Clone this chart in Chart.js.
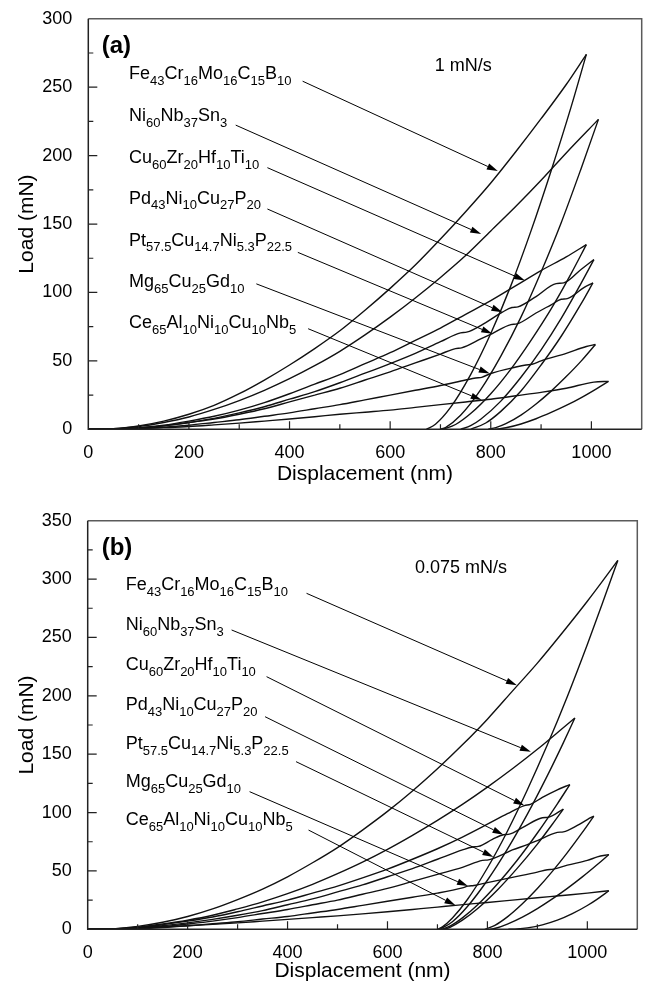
<!DOCTYPE html>
<html>
<head>
<meta charset="utf-8">
<script src="https://cdn.jsdelivr.net/npm/chart.js@4.4.0/dist/chart.umd.min.js"></script>
<style>
    body { margin: 0; background: #fff; }
    #wrapA { position: absolute; left: 0; top: 0; width: 649px; height: 490px; }
    #wrapB { position: absolute; left: 0; top: 490px; width: 649px; height: 496px; }
</style>
</head>
<body>
<div id="wrapA"><canvas id="chartA" width="649" height="490"></canvas></div>
<div id="wrapB"><canvas id="chartB" width="649" height="496"></canvas></div>
<script>
// ---- data: [displacement nm, load mN] ----

// (a) 1 mN/s
const FE_A_LOAD = [[0,0],[50,0.4],[100,2.5],[150,6],[200,11],[250,17.5],[300,26],[350,36],[400,47],[450,59],[500,72],[550,87],[600,103],[650,120],[700,139],[750,159],[800,180],[850,203],[900,227],[950,252],[990,274]];
const FE_A_UNLOAD = [[672,0],[690,3.7],[720,16],[760,40],[800,70],[840,105],[880,145],[920,189],[960,236],[990,274]];
const NI_A_LOAD = [[0,0],[50,0.4],[100,2],[150,5],[200,9],[250,14.5],[300,21],[350,28.5],[400,37],[450,46.5],[500,57],[550,69],[600,82],[650,96],[700,111],[750,127],[800,145],[850,163],[900,182],[950,202],[1014,226.5]];
const NI_A_UNLOAD = [[700,0],[710,1.3],[740,10.3],[780,29],[820,53.5],[860,82],[900,115],[940,151],[980,191],[1014,226.5]];
const CU_A_LOAD = [[0,0],[50,0.2],[100,1],[150,3],[200,6],[250,9.5],[300,14],[350,19.5],[400,26],[450,33],[500,40],[550,48],[600,56],[650,65],[700,74],[750,84],[800,94],[850,105],[900,116],[950,126],[990,135]];
const CU_A_UNLOAD = [[705,0],[730,3.5],[760,11.5],[800,26],[840,44],[880,65],[920,88],[960,114],[990,135]];
const PD_A_LOAD = [[0,0],[50,0.2],[100,1],[150,2.5],[200,5],[250,8],[300,12],[350,16.5],[400,22],[450,27.5],[500,34],[550,41],[600,48],[650,55.5],[700,64],[740,70.5],[752,71],[790,78],[823,85.6],[842,89],[854,89.5],[890,97],[930,106.5],[945,107],[980,117],[1005,124]];
const PD_A_UNLOAD = [[740,0],[760,2.6],[780,7.3],[820,20.6],[860,38],[900,58],[940,81],[980,107],[1005,124]];
const PT_A_LOAD = [[0,0],[50,0.2],[100,1],[150,2.5],[200,5],[250,7.5],[300,11],[350,15],[400,20],[450,25],[500,30],[550,36],[600,42],[650,48.5],[700,55],[730,59],[742,59.5],[780,66],[803,70],[840,76.5],[852,77],[890,85],[920,91],[940,95],[952,95.5],[985,103.5],[1003,107]];
const PT_A_UNLOAD = [[760,0],[790,4.6],[820,13.1],[860,28],[900,47],[940,68],[980,92],[1003,107]];
const MG_A_LOAD = [[0,0],[50,0.1],[100,0.5],[150,1.5],[200,3],[250,5],[300,7],[350,9.5],[400,12],[450,15],[500,18],[550,21.5],[600,25],[650,28.5],[700,32],[750,36],[770,37.5],[782,38],[800,40.8],[850,45.5],[870,47],[882,47.5],[900,50],[950,55.5],[990,60.5],[1008,62]];
const MG_A_UNLOAD = [[795,0],[810,1.2],[830,4.1],[860,10.4],[890,18.5],[920,27.9],[950,38.5],[980,50],[1008,62]];
const CE_A_LOAD = [[0,0],[50,0.1],[100,0.5],[150,1.2],[200,2],[250,3.2],[300,4.5],[350,6],[400,7.5],[450,9.2],[500,11],[550,12.5],[600,14],[650,16],[700,18],[750,20],[800,22],[850,24.5],[900,27],[950,30],[1005,34.5],[1034,35]];
const CE_A_UNLOAD = [[808,0],[830,1.1],[860,3.9],[890,7.7],[920,12.3],[950,17.4],[980,23.2],[1010,29.6],[1034,35]];

// (b) 0.075 mN/s
const FE_B_LOAD = [[0,0],[50,0.4],[100,2.5],[150,6],[200,11],[250,17.5],[300,25.5],[350,34.5],[400,45],[450,57],[500,70],[550,85],[600,101],[650,118.5],[700,137.5],[750,158],[800,180],[850,204],[900,228],[950,254],[1000,281],[1030,298],[1061,316]];
const FE_B_UNLOAD = [[700,0],[710,2.1],[730,9.7],[760,25.5],[800,52.5],[840,84],[880,119.5],[920,158],[960,199.5],[1000,244],[1030,279],[1061,316]];
const NI_B_LOAD = [[0,0],[50,0.3],[100,1.8],[150,4.5],[200,7.8],[250,12],[300,17.5],[350,23.5],[400,30.5],[450,38.5],[500,47.6],[550,57.5],[600,68.5],[650,80.5],[700,93.3],[750,107],[800,121.8],[850,137.5],[900,154.2],[950,172],[975,181]];
const NI_B_UNLOAD = [[705,0],[730,6.5],[760,19.5],[800,42],[840,68.6],[880,98.6],[920,131.6],[950,158],[975,181]];
const CU_B_LOAD = [[0,0],[50,0.2],[100,1.5],[150,4],[200,7],[250,10.5],[300,15],[350,20],[400,25],[450,31],[500,37],[550,44],[600,51.5],[650,60],[700,69],[750,79],[800,90],[840,99],[874,106],[886,107],[910,113],[940,119.5],[965,124]];
const CU_B_UNLOAD = [[708,0],[725,2.7],[750,9.8],[780,20.8],[820,38.8],[860,59.4],[900,82.5],[940,107.5],[965,124]];
const PD_B_LOAD = [[0,0],[50,0.2],[100,1],[150,3],[200,5.5],[250,8.5],[300,12],[350,16],[400,21],[450,26],[500,32],[550,38],[600,45],[650,52],[700,60],[750,68],[770,70.5],[782,71],[810,77],[832,81],[844,81.5],[870,87],[910,95.5],[922,96],[952,103]];
const PD_B_UNLOAD = [[712,0],[725,1.7],[750,7.8],[780,17.6],[820,33.7],[860,52.4],[900,73],[930,90],[952,103]];
const PT_B_LOAD = [[0,0],[50,0.2],[100,1],[150,2.2],[200,4.5],[250,7],[300,10],[350,13.5],[400,17],[450,21],[500,25],[550,30],[600,35],[650,41],[700,47],[750,53],[790,59],[802,59.5],[830,64],[850,68],[880,72.5],[900,76],[940,83],[952,83.5],[980,89],[1000,94],[1013,97]];
const PT_B_UNLOAD = [[795,0],[815,3.4],[840,10.6],[870,21.8],[900,34.9],[930,49.6],[960,65.7],[990,83],[1013,97]];
const MG_B_LOAD = [[0,0],[50,0.1],[100,0.5],[150,1.5],[200,3],[250,4.8],[300,6.5],[350,8.8],[400,11],[450,14],[500,17],[550,20.5],[600,24],[650,27.5],[700,31],[750,35.5],[761,37],[773,37.5],[800,40],[850,44.5],[900,49],[920,51],[932,51.5],[960,55],[1000,59],[1020,62],[1043,64]];
const MG_B_UNLOAD = [[805,0],[820,1.3],[840,4.4],[870,10.4],[900,17.7],[930,26],[960,35.1],[990,44.9],[1020,55.5],[1043,64]];
const CE_B_LOAD = [[0,0],[50,0.2],[100,1],[150,2],[200,3],[250,4.2],[300,5.5],[350,7],[400,8.5],[450,10],[500,11.5],[550,13.2],[600,15],[650,17],[700,19],[736,20.5],[800,23],[850,25],[900,27],[950,29],[1000,31],[1043,33]];
const CE_B_UNLOAD = [[842,0],[860,0.3],[880,1.2],[910,3.8],[940,7.8],[970,13.4],[1000,20.4],[1020,25.9],[1043,33]];

// alloy names, normal text and subscripts alternating
const ALLOYS = [
    ['Fe', '43', 'Cr', '16', 'Mo', '16', 'C', '15', 'B', '10'],
    ['Ni', '60', 'Nb', '37', 'Sn', '3'],
    ['Cu', '60', 'Zr', '20', 'Hf', '10', 'Ti', '10'],
    ['Pd', '43', 'Ni', '10', 'Cu', '27', 'P', '20'],
    ['Pt', '57.5', 'Cu', '14.7', 'Ni', '5.3', 'P', '22.5'],
    ['Mg', '65', 'Cu', '25', 'Gd', '10'],
    ['Ce', '65', 'Al', '10', 'Ni', '10', 'Cu', '10', 'Nb', '5']
];

const X_TICKS = [0, 200, 400, 600, 800, 1000];
const Y_TICKS_A = [0, 50, 100, 150, 200, 250, 300];
const Y_TICKS_B = [0, 50, 100, 150, 200, 250, 300, 350];

const FONT = '"Liberation Sans", Arial, Helvetica, sans-serif';
Chart.defaults.font.family = FONT;
Chart.defaults.color = '#000';


function toPoints(arr) {
    return arr.map(p => ({ x: p[0], y: p[1] }));
}


function makeDatasets(curves) {
    return curves.map(c => ({
        data: toPoints(c),
        showLine: true,
        pointRadius: 0,
        borderColor: '#111',
        borderWidth: 1.4,
        cubicInterpolationMode: 'monotone',
        fill: false
    }));
}


function arrow(ctx, x0, y0, x1, y1) {
    const ang = Math.atan2(y1 - y0, x1 - x0);
    const len = 11, half = 3.2;
    const bx = x1 - len * Math.cos(ang), by = y1 - len * Math.sin(ang);
    ctx.beginPath();
    ctx.moveTo(x0, y0);
    ctx.lineTo(bx, by);
    ctx.stroke();
    ctx.beginPath();
    ctx.moveTo(x1, y1);
    ctx.lineTo(bx + half * Math.sin(ang), by - half * Math.cos(ang));
    ctx.lineTo(bx - half * Math.sin(ang), by + half * Math.cos(ang));
    ctx.closePath();
    ctx.fill();
}


// inward ticks, frame box, alloy labels with arrows
const decor = {
    id: 'decor',
    afterDatasetsDraw(chart, args, o) {
        const { ctx, chartArea: a } = chart;
        const xs = chart.scales.x, ys = chart.scales.y;
        ctx.save();

        ctx.strokeStyle = '#222';
        ctx.lineWidth = 1.2;
        ctx.beginPath();
        for (let v = 100; v < xs.max; v += 100) {
            const px = xs.getPixelForValue(v);
            const len = v % 200 === 0 ? 8 : 5;
            ctx.moveTo(px, a.bottom);
            ctx.lineTo(px, a.bottom - len);
        }
        for (let v = 25; v < ys.max; v += 25) {
            const py = ys.getPixelForValue(v);
            const len = v % 50 === 0 ? 9 : 5;
            ctx.moveTo(a.left, py);
            ctx.lineTo(a.left + len, py);
        }
        ctx.stroke();

        ctx.lineWidth = 1.5;
        ctx.strokeStyle = '#5a5a5a';
        ctx.beginPath();
        ctx.moveTo(a.left, a.top);
        ctx.lineTo(a.right, a.top);
        ctx.lineTo(a.right, a.bottom);
        ctx.stroke();
        ctx.strokeStyle = '#222';
        ctx.beginPath();
        ctx.moveTo(a.left, a.top);
        ctx.lineTo(a.left, a.bottom);
        ctx.lineTo(a.right, a.bottom);
        ctx.stroke();

        ctx.fillStyle = '#000';
        ctx.strokeStyle = '#000';
        ctx.lineWidth = 1;
        ctx.textAlign = 'left';
        ctx.textBaseline = 'middle';

        o.labelY.forEach((ly, i) => {
            let cx = xs.getPixelForValue(o.labelX);
            const cy = ys.getPixelForValue(ly);
            ALLOYS[i].forEach((part, k) => {
                const sub = k % 2 === 1;
                ctx.font = (sub ? '13px ' : '18px ') + FONT;
                ctx.fillText(part, cx, sub ? cy + 7 : cy);
                cx += ctx.measureText(part).width;
            });
            arrow(ctx,
                xs.getPixelForValue(o.from[i][0]), ys.getPixelForValue(o.from[i][1]),
                xs.getPixelForValue(o.to[i][0]), ys.getPixelForValue(o.to[i][1]));
        });

        ctx.font = '18px ' + FONT;
        ctx.fillText(o.rate, xs.getPixelForValue(o.rateAt[0]), ys.getPixelForValue(o.rateAt[1]));
        ctx.font = 'bold 24px ' + FONT;
        ctx.fillText(o.tag, xs.getPixelForValue(o.tagAt[0]), ys.getPixelForValue(o.tagAt[1]));

        ctx.restore();
    }
};


function makeChart(id, curves, yTicks, box, notes) {
    const yMax = yTicks[yTicks.length - 1];
    return new Chart(document.getElementById(id), {
        type: 'scatter',
        data: { datasets: makeDatasets(curves) },
        plugins: [decor],
        options: {
            responsive: false,
            animation: false,
            events: [],
            layout: { padding: { top: box.top, right: box.right, left: 0, bottom: 0 } },
            plugins: {
                legend: { display: false },
                tooltip: { enabled: false },
                decor: notes
            },
            scales: {
                x: {
                    type: 'linear', min: 0, max: 1100,
                    afterFit: s => { s.height = box.xh; },
                    grid: { display: false },
                    border: { display: false },
                    ticks: {
                        stepSize: 200, includeBounds: false, maxRotation: 0, padding: 5,
                        font: { size: 18 }, color: '#000',
                        callback: v => X_TICKS.includes(v) ? v : ''
                    },
                    title: {
                        display: true, text: 'Displacement (nm)', color: '#000',
                        font: { size: 21 }, padding: { top: 0, bottom: box.titleB }
                    }
                },
                y: {
                    type: 'linear', min: 0, max: yMax,
                    afterFit: s => { s.width = box.yw; },
                    grid: { display: false },
                    border: { display: false },
                    ticks: {
                        stepSize: 50, padding: 8, font: { size: 18 }, color: '#000',
                        callback: v => yTicks.includes(v) ? v : ''
                    },
                    title: {
                        display: true, text: 'Load (mN)', color: '#000',
                        font: { size: 21 }, padding: { top: 15, bottom: 0 }
                    }
                }
            }
        }
    });
}


makeChart('chartA',
    [FE_A_LOAD, FE_A_UNLOAD, NI_A_LOAD, NI_A_UNLOAD, CU_A_LOAD, CU_A_UNLOAD, PD_A_LOAD, PD_A_UNLOAD,
     PT_A_LOAD, PT_A_UNLOAD, MG_A_LOAD, MG_A_UNLOAD, CE_A_LOAD, CE_A_UNLOAD],
    Y_TICKS_A,
    { top: 17.5, right: 7.3, yw: 88.3, xh: 60.7, titleB: 3.4 },
    {
        labelX: 81,
        labelY: [259.4, 228.9, 198.3, 168.4, 137.8, 107.3, 77.4],
        from: [[426, 254.4], [293, 222.3], [356, 191.2], [356, 161], [416.5, 129.3], [334, 106.3], [437, 73.5]],
        to: [[814, 188.7], [781, 142.7], [868, 108.7], [823, 85.6], [803, 69.9], [798, 40.8], [782, 21.4]],
        rate: '1 mN/s', rateAt: [688.6, 265.3],
        tag: '(a)', tagAt: [26.6, 279.8]
    });

makeChart('chartB',
    [FE_B_LOAD, FE_B_UNLOAD, NI_B_LOAD, NI_B_UNLOAD, CU_B_LOAD, CU_B_UNLOAD, PD_B_LOAD, PD_B_UNLOAD,
     PT_B_LOAD, PT_B_UNLOAD, MG_B_LOAD, MG_B_UNLOAD, CE_B_LOAD, CE_B_UNLOAD],
    Y_TICKS_B,
    { top: 30.7, right: 11.7, yw: 87.7, xh: 56.7, titleB: 2.4 },
    {
        labelX: 76,
        labelY: [294.9, 260.6, 226.4, 192.1, 158.7, 126.2, 93.6],
        from: [[438, 287.8], [288, 256.4], [358, 216.4], [355, 182.1], [417, 143.6], [324, 117.9], [442, 85]],
        to: [[859, 209], [887, 152], [874, 106], [832, 81], [812, 62], [761, 37], [736, 20.5]],
        rate: '0.075 mN/s', rateAt: [655, 309.2],
        tag: '(b)', tagAt: [28, 326.3]
    });
</script>
</body>
</html>
